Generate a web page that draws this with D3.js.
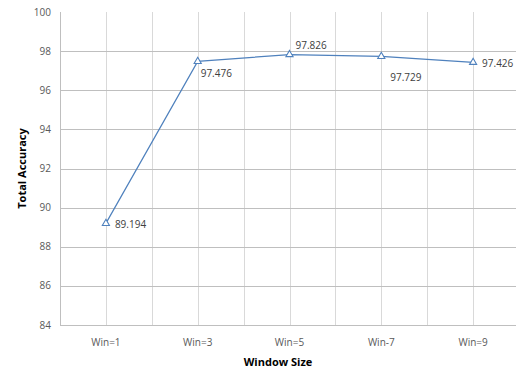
<!DOCTYPE html>
<html>
<head>
<meta charset="utf-8">
<script src="https://cdn.jsdelivr.net/npm/d3@7"></script>
<style>
  body { margin: 0; background: #fff; }
  svg { display: block; font-family: "Open Sans", "Noto Sans", sans-serif; }
  .tick-label { fill: #595959; font-size: 10px; }
  .data-label { fill: #404040; font-size: 10px; }
  .axis-title { fill: #000; font-size: 11px; font-weight: bold; }
</style>
</head>
<body>
<div id="chart"></div>
<script>
// data
var categories = ['Win=1', 'Win=3', 'Win=5', 'Win-7', 'Win=9'];
var accuracy = [89.194, 97.476, 97.826, 97.729, 97.426];
var yTicks = [84, 86, 88, 90, 92, 94, 96, 98, 100];

var width = 516, height = 372;
var margin = { top: 12, right: -3, bottom: 47, left: 60 };

var svg = d3.select('#chart').append('svg')
  .attr('width', width)
  .attr('height', height);

var x = d3.scaleBand()
  .domain(categories)
  .range([margin.left, width - margin.right]);

var y = d3.scaleLinear()
  .domain([84, 100])
  .range([height - margin.bottom, margin.top]);

var plotBottom = y(84), plotTop = y(100);

//vertical grid: category centres and band edges
var vLines = [];
categories.forEach(function(c) {
  vLines.push(x(c));
  vLines.push(x(c) + x.bandwidth() / 2);
});
vLines.push(x(categories[categories.length - 1]) + x.bandwidth());

svg.append('g').selectAll('line')
  .data(vLines.slice(1))
  .enter().append('line')
  .attr('x1', function(d) { return Math.round(d) + 0.5; })
  .attr('x2', function(d) { return Math.round(d) + 0.5; })
  .attr('y1', plotTop)
  .attr('y2', plotBottom)
  .attr('stroke', '#d9d9d9')
  .attr('stroke-width', 1);

//horizontal grid
svg.append('g').selectAll('line')
  .data(yTicks.filter(function(t) { return t > 84 && t < 100; }))
  .enter().append('line')
  .attr('x1', margin.left)
  .attr('x2', width)
  .attr('y1', function(d) { return Math.round(y(d)) + 0.5; })
  .attr('y2', function(d) { return Math.round(y(d)) + 0.5; })
  .attr('stroke', '#bfbfbf')
  .attr('stroke-width', 1);

//axis lines
svg.append('line')
  .attr('x1', margin.left + 0.5).attr('x2', margin.left + 0.5)
  .attr('y1', plotTop).attr('y2', plotBottom)
  .attr('stroke', '#bfbfbf');
svg.append('line')
  .attr('x1', margin.left).attr('x2', width)
  .attr('y1', Math.round(plotBottom) + 0.5).attr('y2', Math.round(plotBottom) + 0.5)
  .attr('stroke', '#bfbfbf');

//y tick labels
svg.append('g').selectAll('text')
  .data(yTicks)
  .enter().append('text')
  .attr('class', 'tick-label')
  .attr('x', 51)
  .attr('y', function(d) { return y(d); })
  .attr('dy', '0.35em')
  .attr('text-anchor', 'end')
  .text(function(d) { return d; });

//x tick labels
svg.append('g').selectAll('text')
  .data(categories)
  .enter().append('text')
  .attr('class', 'tick-label')
  .attr('x', function(d) { return x(d) + x.bandwidth() / 2; })
  .attr('y', plotBottom + 21)
  .attr('text-anchor', 'middle')
  .text(function(d) { return d; });

//axis titles
svg.append('text')
  .attr('class', 'axis-title')
  .attr('x', 278)
  .attr('y', 366)
  .attr('text-anchor', 'middle')
  .text('Window Size');

svg.append('text')
  .attr('class', 'axis-title')
  .attr('transform', 'translate(26,' + ((plotTop + plotBottom) / 2) + ') rotate(-90)')
  .attr('text-anchor', 'middle')
  .text('Total Accuracy');

//line
var points = categories.map(function(c, i) {
  return { cat: c, value: accuracy[i], px: x(c) + x.bandwidth() / 2, py: y(accuracy[i]) };
});

svg.append('path')
  .datum(points)
  .attr('fill', 'none')
  .attr('stroke', '#4f81bd')
  .attr('stroke-width', 1.2)
  .attr('d', d3.line().x(function(d) { return d.px; }).y(function(d) { return d.py; }));

//triangle markers
svg.append('g').selectAll('path')
  .data(points)
  .enter().append('path')
  .attr('transform', function(d) { return 'translate(' + d.px + ',' + d.py + ')'; })
  .attr('d', d3.symbol().type(d3.symbolTriangle).size(22))
  .attr('fill', '#fff')
  .attr('stroke', '#4f81bd')
  .attr('stroke-width', 1.1);

//data labels, placed like in the reference
var labelPlace = ['right', 'below', 'above', 'below', 'right'];
svg.append('g').selectAll('text')
  .data(points)
  .enter().append('text')
  .attr('class', 'data-label')
  .attr('x', function(d, i) {
    var p = labelPlace[i];
    if (p === 'right') return d.px + 9;
    if (p === 'below') return i === 1 ? d.px + 3 : d.px + 9;
    return d.px + 6;
  })
  .attr('y', function(d, i) {
    var p = labelPlace[i];
    if (p === 'right') return d.py + 5;
    if (p === 'below') return i === 1 ? d.py + 16 : d.py + 25;
    return d.py - 6;
  })
  .text(function(d) { return d3.format('.3f')(d.value); });
</script>
</body>
</html>
